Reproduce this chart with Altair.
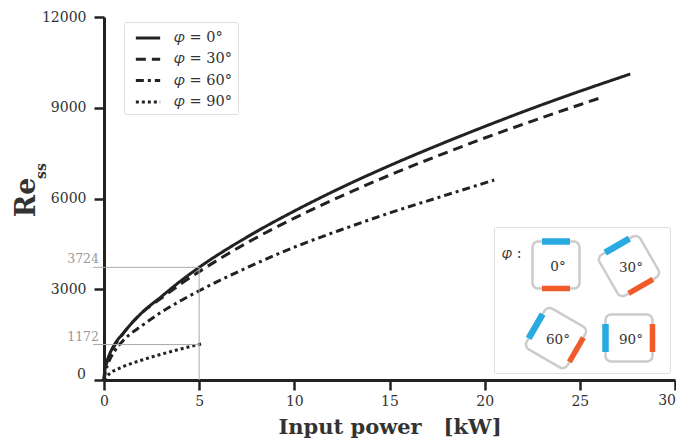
import altair as alt
import pandas as pd

x0 = [0, 0.03, 0.1, 0.25, 0.55, 1, 2, 3, 4, 5, 7.5, 10, 12.5, 15, 17.5, 20, 22.5, 25, 27.65]
y0 = [0, 250, 480, 780, 1170, 1540, 2230, 2750, 3260, 3724, 4720, 5585, 6370, 7085, 7750, 8380, 8980, 9545, 10115]
x30 = [0, 0.03, 0.1, 0.25, 0.55, 1, 2, 3, 4, 5, 7.5, 10, 12.5, 15, 17.5, 20, 22.5, 25, 26.1]
y30 = [0, 240, 460, 760, 1130, 1530, 2230, 2700, 3160, 3580, 4530, 5350, 6090, 6770, 7400, 8000, 8560, 9100, 9332]
x60 = [0, 0.1, 0.25, 0.55, 1, 2, 3, 4, 5, 7.5, 10, 12.5, 15, 17.5, 20.5]
y60 = [0, 320, 600, 950, 1300, 1800, 2240, 2610, 2950, 3710, 4390, 4975, 5520, 6020, 6610]
x90 = [0, 0.1, 0.3, 1, 2, 2.5, 3, 4, 5.1]
y90 = [0, 90, 210, 440, 660, 760, 850, 1020, 1190]
labels = ["\U0001D711 = 0°", "\U0001D711 = 30°", "\U0001D711 = 60°", "\U0001D711 = 90°"]
dashes = [[1, 0], [10, 6], [8, 4, 3, 4], [3, 3]]
icon_angles = [0, 330, 300, 270]
icon_labels = ["0°", "30°", "60°", "90°"]
guide_values = [1172, 3724]
guide_labels = ["1172", "3724"]

df = pd.concat(
    [pd.DataFrame({"p": x, "r": y, "s": l}) for x, y, l in
     zip([x0, x30, x60, x90], [y0, y30, y60, y90], labels)]
)
SERIF = "DejaVu Serif"
X = alt.X("p:Q", scale=alt.Scale(domain=[0, 30], nice=False),
          axis=alt.Axis(values=[0, 5, 10, 15, 20, 25, 30], title="Input power\u00a0\u00a0\u00a0[kW]",
                        titleFont=SERIF, titleFontSize=21, titleFontWeight="bold", titleColor="#333",
                        titlePadding=8, grid=False, domainWidth=3, domainColor="#222", tickColor="#222",
                        tickWidth=2.5, tickSize=10, labelFont=SERIF, labelFontSize=14, labelColor="#333",
                        labelPadding=4, labelFlush=False,
                        labelExpr="datum.value == 30 ? '' : datum.label"))
Y = alt.Y("r:Q", scale=alt.Scale(domain=[0, 12000], nice=False),
          axis=alt.Axis(values=[0, 3000, 6000, 9000, 12000], title=None,
                        labelExpr="datum.value == 0 ? '' : datum.label", format="d",
                        grid=False, domainWidth=3, domainColor="#222", tickColor="#222",
                        tickWidth=2.5, tickSize=10, labelFont=SERIF, labelFontSize=14, labelColor="#333",
                        labelPadding=8, labelFlush=False))

LEG = "M-1.3,0 L1.3,0"
lines = alt.Chart(df).mark_line(strokeWidth=3, color="#222", strokeCap="butt", interpolate="monotone").encode(
    x=X, y=Y,
    strokeDash=alt.StrokeDash("s:N", scale=alt.Scale(domain=labels, range=dashes),
        legend=alt.Legend(title=None, orient="none", legendX=20, legendY=5, fillColor="white",
                          strokeColor="#ddd", padding=5, cornerRadius=2, symbolType=LEG,
                          symbolStrokeColor="#222", symbolStrokeWidth=3, symbolSize=350,
                          symbolFillColor="transparent", symbolOffset=8,
                          labelFont=SERIF, labelFontSize=14.5, labelColor="#333", rowPadding=3.3,
                          labelOffset=15)),
)

W, H = 571, 363
def px(v): return v - 104
def py(v): return v - 17

gd = pd.DataFrame({"r": guide_values, "l": guide_labels})
hguide = alt.Chart(gd).mark_rule(color="#aaa", strokeWidth=1).encode(
    y=alt.Y("r:Q"), x=alt.value(px(93)), x2=alt.value(px(199)))
vguide = alt.Chart(pd.DataFrame({"p": [5], "r": [0], "r2": [3724]})).mark_rule(color="#aaa", strokeWidth=1).encode(
    x=alt.X("p:Q"), y=alt.Y("r:Q"), y2="r2:Q")
gtext = alt.Chart(gd).mark_text(font=SERIF, fontSize=12.5, color="#999", align="right", baseline="bottom", dy=-1).encode(
    y=alt.Y("r:Q"), x=alt.value(px(99)), text="l:N")

def txt(t, x, y, **kw):
    return alt.Chart(pd.DataFrame({"t": [t]})).mark_text(font=SERIF, color="#333", **kw).encode(
        x=alt.value(px(x)), y=alt.value(py(y)), text="t:N")

zero = txt("0", 86, 375, fontSize=14, align="right", baseline="middle")
thirty = txt("30", 676, 401, fontSize=14, align="right", baseline="middle")

ytitle = txt("Re", 35, 197.5, fontSize=27, fontWeight="bold", angle=270, align="center", baseline="alphabetic") + \
         txt("ss", 46, 171, fontSize=14, fontWeight="bold", angle=270, align="center", baseline="alphabetic")

box = alt.Chart(pd.DataFrame({"a": [1]})).mark_rect(fill="white", stroke="#ddd", strokeWidth=1, cornerRadius=2).encode(
    x=alt.value(px(494.5)), x2=alt.value(px(670.5)), y=alt.value(py(227.5)), y2=alt.value(py(373.5)))

R = "M-18,-23.5 L18,-23.5 C21,-23.5 23.5,-21 23.5,-18 L23.5,18 C23.5,21 21,23.5 18,23.5 L-18,23.5 C-21,23.5 -23.5,21 -23.5,18 L-23.5,-18 C-23.5,-21 -21,-23.5 -18,-23.5 Z"
BLUE = "M-14,-23.5 L14,-23.5"
ORANGE = "M-14,23.5 L14,23.5"
centers = [(556, 265), (629, 266), (556, 338), (629, 338)]
icons = []
for ang, (cx, cy), lab in zip(icon_angles, centers, icon_labels):
    for shape, col, sw in [(R, "#cccccc", 2.5), (BLUE, "#29abe2", 6.5), (ORANGE, "#f15a29", 5.5)]:
        icons.append(alt.Chart(pd.DataFrame({"a": [1]})).mark_point(
            shape=shape, size=4, angle=ang, filled=False, stroke=col, strokeWidth=sw, opacity=1
        ).encode(x=alt.value(px(cx)), y=alt.value(py(cy))))
    icons.append(txt(lab, cx + 2, cy + 2, fontSize=13.5, align="center", baseline="middle"))
phi = txt("\U0001D711 :", 512, 254, fontSize=14, align="center", baseline="middle")

chart = alt.layer(lines, hguide, vguide, gtext, zero, thirty, ytitle, box, *icons, phi).properties(
    width=W, height=H,
    autosize=alt.AutoSizeParams(type="none"),
    padding={"left": 96, "top": 9, "right": 1, "bottom": 60},
).configure_view(stroke=None)

chart.save("out.html", embed_options={"renderer": "svg", "actions": False})
